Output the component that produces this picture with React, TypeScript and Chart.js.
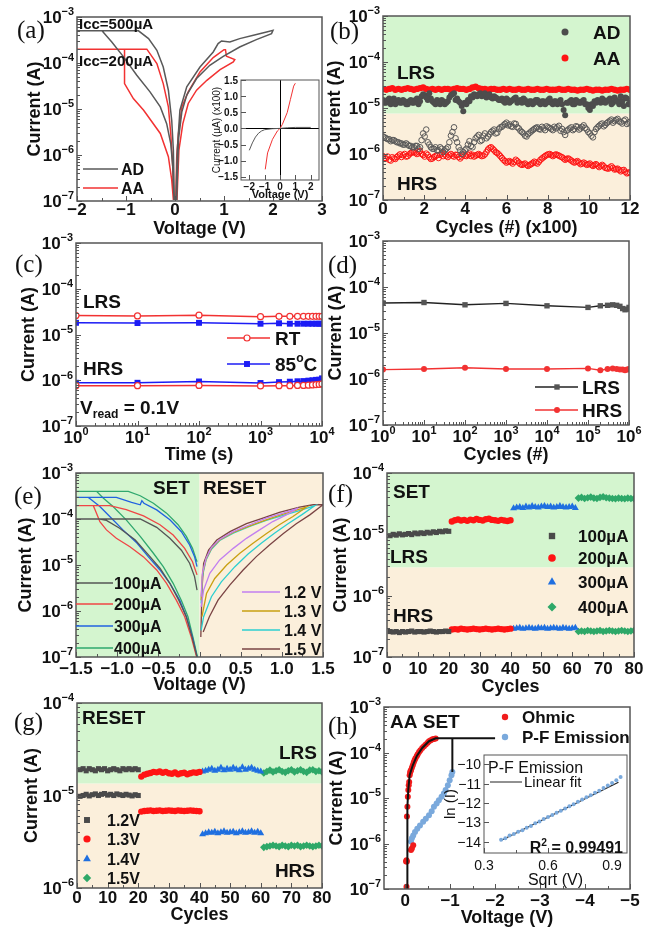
import React, { useEffect, useRef } from 'react';
import { Chart, registerables } from 'chart.js';

Chart.register(...registerables);

const SANS = '"Liberation Sans", Arial, Helvetica, sans-serif';
const SERIF = '"Liberation Serif", "Times New Roman", Times, serif';
const AXIS = '#555555';
const INK = '#111111';
const GREEN_BG = '#d4f5cf';
const BEIGE_BG = '#fbefdb';

type Pt = [number, number];

// ---------------- shared tick labels ----------------
const DEC_7_3 = [1e-7, 1e-6, 1e-5, 1e-4, 1e-3];
const DEC_7_4 = [1e-7, 1e-6, 1e-5, 1e-4];
const DEC_6_4 = [1e-6, 1e-5, 1e-4];
const cTicksX = [1, 10, 100, 1000, 10000];
const dTicksX = [1, 10, 100, 1000, 1e4, 1e5, 1e6];
const aTicksX = [-2, -1, 0, 1, 2, 3];
const aMinorX = [-1.5, -0.5, 0.5, 1.5, 2.5];
const bTicksX = [0, 2, 4, 6, 8, 10, 12];
const bMinorX = [1, 3, 5, 7, 9, 11];
const eTicksX = [-1.5, -1.0, -0.5, 0.0, 0.5, 1.0, 1.5];
const eMinorX = [-1.25, -0.75, -0.25, 0.25, 0.75, 1.25];
const cycTicksX = [0, 10, 20, 30, 40, 50, 60, 70, 80];
const cycMinorX = [5, 15, 25, 35, 45, 55, 65, 75];
const hTicksX = [0, -1, -2, -3, -4, -5];
const hMinorX = [-0.5, -1.5, -2.5, -3.5, -4.5];
const aInsTicksX = [-2, -1, 0, 1, 2];
const aInsTicksY = [-1.5, -1.0, -0.5, 0.0, 0.5, 1.0, 1.5];
const hInsTicksX = [0.3, 0.6, 0.9];
const hInsMinorX = [0.45, 0.75];
const hInsTicksY = [-14, -13, -12, -11, -10];

function logMinor(lo: number, hi: number) {
  const out: number[] = [];
  for (let e = lo; e < hi; e++) for (let m = 2; m <= 9; m++) out.push(m * Number('1e' + e));
  return out;
}

// ---------------- (a) I-V loops [V, A] ----------------
const aAdNeg: Pt[] = [
  [-0.02, 1.05e-7], [-0.046, 5.6e-7], [-0.087, 1.78e-6], [-0.17, 4.8e-6], [-0.30, 1.11e-5],
  [-0.51, 2.36e-5], [-0.78, 5.4e-5], [-1.05, 1.36e-4], [-1.29, 2.87e-4], [-1.49, 5.0e-4],
  [-2.0, 5.0e-4], [-0.745, 5.0e-4], [-0.54, 3.39e-4], [-0.37, 1.89e-4], [-0.24, 8.2e-5],
  [-0.135, 2.56e-5], [-0.067, 5.7e-6], [-0.033, 1.28e-6], [-0.014, 1.05e-7],
];
const aAdPos: Pt[] = [
  [0.02, 1.05e-7], [0.047, 1.28e-6], [0.10, 9.4e-6], [0.24, 3.03e-5], [0.51, 8.2e-5],
  [0.78, 1.74e-4], [0.88, 2.64e-4], [0.95, 3.02e-4], [1.12, 2.87e-4], [1.32, 3.39e-4],
  [1.60, 4.0e-4], [1.87, 4.73e-4], [2.0, 5.14e-4], [1.97, 4.35e-4], [1.66, 3.22e-4],
  [1.32, 2.23e-4], [0.985, 1.4e-4], [0.71, 8.9e-5], [0.44, 4.6e-5], [0.24, 2.0e-5],
  [0.14, 8.7e-6], [0.07, 2.1e-6], [0.035, 1.05e-7],
];
const aAaNeg: Pt[] = [
  [-0.033, 1.05e-7], [-0.067, 2.86e-7], [-0.135, 9.2e-7], [-0.30, 2.94e-6], [-0.64, 9.4e-6],
  [-0.85, 1.69e-5], [-1.03, 3.57e-5], [-1.03, 2.0e-4], [-2.0, 2.0e-4], [-0.575, 2.0e-4],
  [-0.37, 9.7e-5], [-0.24, 3.57e-5], [-0.135, 1.11e-5], [-0.087, 2.94e-6], [-0.046, 5.6e-7],
  [-0.026, 1.05e-7],
];
const aAaPos: Pt[] = [
  [0.015, 1.05e-7], [0.035, 9.2e-7], [0.07, 2.94e-6], [0.14, 1.11e-5], [0.27, 2.36e-5],
  [0.51, 6.4e-5], [0.78, 1.31e-4], [1.0, 1.95e-4], [1.03, 1.95e-4], [1.05, 1.4e-4],
  [1.22, 1.19e-4], [1.19, 1.06e-4], [0.92, 7.2e-5], [0.65, 4.2e-5], [0.44, 2.56e-5],
  [0.27, 1.32e-5], [0.16, 4.8e-6], [0.08, 1.28e-6], [0.04, 1.05e-7],
];
// inset (a): [V, uA x100]
const aInsAD: Pt[] = [
  [-2.0, -0.68], [-1.8, -0.45], [-1.6, -0.27], [-1.4, -0.15], [-1.2, -0.08], [-1.0, -0.04],
  [-0.5, -0.01], [0, 0], [0.5, 0.02], [1.0, 0.03], [2.0, 0.03],
];
const aInsAA: Pt[] = [
  [-0.96, -1.27], [-0.81, -0.76], [-0.49, -0.34], [-0.17, -0.08], [0, 0], [0.15, 0.12],
  [0.47, 0.49], [0.68, 0.9], [0.89, 1.31], [1.0, 1.4],
];

// ---------------- (b) endurance, x in units of 100 cycles ----------------
const bStep = 0.15;       // main sampling (x = i * bStep)
const bOffset = 0.075;    // interleaved sampling (x = bOffset + i * bStep)
const bAdLrs = [ // x1e-5 A
  1.5, 1.3, 1.6, 1.4, 1.2, 1.5, 1.3, 1.4, 1.2, 1.5,
  1.3, 1.6, 1.4, 2.0, 1.7, 2.1, 1.4, 1.2, 1.3, 1.5,
  1.2, 1.4, 1.9, 2.1, 1.6, 1.3, 0.85, 1.2, 1.4, 1.7,
  1.9, 2.0, 1.8, 2.1, 1.9, 1.7, 1.8, 1.6, 1.5, 1.4,
  1.6, 1.3, 1.5, 1.7, 1.4, 1.3, 1.5, 1.2, 1.4, 1.3,
  1.5, 1.2, 1.4, 1.3, 1.6, 1.2, 1.4, 1.3, 1.2, 0.7,
  1.3, 1.5, 1.2, 1.4, 1.3, 1.5, 1.2, 0.9, 1.1, 1.3,
  1.4, 1.6, 1.3, 1.5, 1.2, 1.7, 1.4, 1.8, 1.1, 1.6,
  1.3,
];
const bAdLrs2 = [ // x1e-5 A, interleaved
  1.3, 1.5, 1.2, 1.6, 1.4, 1.3, 1.5, 1.2, 1.4, 1.3,
  1.5, 1.2, 1.8, 1.9, 1.5, 1.6, 1.3, 1.5, 1.2, 1.4,
  1.3, 1.7, 2.0, 1.5, 1.4, 1.1, 1.3, 1.5, 1.8, 2.0,
  1.8, 2.1, 1.9, 1.7, 2.0, 1.6, 1.7, 1.5, 1.6, 1.3,
  1.5, 1.4, 1.6, 1.3, 1.5, 1.6, 1.3, 1.4, 1.2, 1.5,
  1.3, 1.4, 1.2, 1.5, 1.3, 1.4, 1.2, 1.5, 0.9, 1.3,
  1.4, 1.2, 1.5, 1.3, 1.4, 1.2, 1.0, 1.2, 1.4, 1.5,
  1.3, 1.5, 1.4, 1.6, 1.3, 1.5, 1.2, 1.4, 1.7, 1.2,
];
const bAaLrs = [ // x1e-5 A
  2.6, 2.5, 2.6, 2.7, 2.5, 2.6, 2.5, 2.6, 2.7, 2.6,
  2.5, 2.6, 2.7, 2.8, 2.6, 2.5, 2.6, 2.5, 2.6, 2.5,
  2.6, 2.6, 2.5, 2.6, 2.7, 2.6, 2.6, 2.5, 2.6, 2.8,
  2.9, 2.7, 2.6, 2.6, 2.5, 2.6, 2.6, 2.5, 2.5, 2.6,
  2.5, 2.6, 2.5, 2.5, 2.6, 2.5, 2.5, 2.6, 2.5, 2.5,
  2.6, 2.5, 2.5, 2.6, 2.5, 2.5, 2.5, 2.6, 2.5, 2.5,
  2.6, 2.5, 2.5, 2.4, 2.5, 2.5, 2.6, 2.5, 2.4, 2.5,
  2.5, 2.4, 2.5, 2.5, 2.6, 2.5, 2.4, 2.5, 2.5, 2.6,
  2.5,
];
const bAdHrs = [ // x1e-6 A
  2.4, 2.2, 2.1, 2.0, 1.9, 1.8, 1.7, 1.6, 1.6, 1.5,
  1.4, 1.5, 1.4, 2.8, 3.4, 1.6, 1.3, 1.4, 1.2, 1.3,
  1.2, 1.4, 2.5, 3.8, 1.8, 1.2, 1.1, 1.3, 1.9, 1.4,
  2.2, 2.6, 2.0, 2.8, 2.4, 3.0, 3.4, 2.9, 3.8, 4.2,
  4.8, 4.4, 3.9, 4.5, 3.6, 3.0, 2.5, 2.7, 3.1, 3.5,
  3.8, 3.4, 3.6, 4.0, 3.7, 3.3, 3.6, 4.1, 3.5, 2.6,
  3.4, 3.8, 3.5, 3.9, 3.6, 4.2, 3.4, 2.8, 2.3, 3.5,
  4.1, 4.6, 4.3, 5.0, 5.6, 5.2, 5.8, 4.9, 5.3, 4.5,
  5.0,
];
const bAdHrs2 = [ // x1e-6 A, interleaved
  2.3, 2.1, 1.9, 2.0, 1.8, 1.7, 1.6, 1.7, 1.5, 1.4,
  1.5, 1.3, 2.0, 2.4, 1.8, 1.4, 1.3, 1.2, 1.4, 1.1,
  1.3, 1.8, 3.0, 2.2, 1.4, 1.0, 1.2, 1.6, 1.5, 1.8,
  2.4, 1.9, 2.5, 2.2, 2.7, 3.2, 2.8, 3.5, 3.9, 4.5,
  4.2, 4.0, 4.6, 3.8, 3.2, 2.8, 2.4, 2.9, 3.3, 3.7,
  3.5, 3.9, 3.3, 3.8, 3.5, 3.9, 3.8, 3.2, 3.0, 3.2,
  3.6, 3.3, 4.0, 3.4, 3.9, 3.7, 3.0, 2.5, 3.0, 3.8,
  4.4, 4.0, 4.7, 5.3, 4.8, 5.5, 5.1, 4.6, 5.6, 4.8,
];
const bAaHrs = [ // x1e-7 A
  9.0, 8.0, 7.5, 8.5, 7.8, 9.2, 8.6, 10.0, 9.0, 10.5,
  11.0, 10.0, 11.5, 9.5, 10.2, 8.5, 8.0, 9.0, 8.2, 10.5,
  9.8, 8.6, 10.0, 8.8, 9.5, 8.0, 9.8, 9.0, 10.2, 9.6,
  9.2, 10.0, 9.0, 9.8, 12.5, 14.0, 12.0, 10.5, 9.0, 7.5,
  6.5, 7.0, 6.2, 7.5, 6.5, 5.8, 6.2, 5.5, 6.0, 6.8,
  6.2, 7.5, 8.5, 9.5, 10.0, 9.0, 9.8, 9.2, 8.5, 7.5,
  8.0, 7.2, 6.5, 7.0, 6.0, 6.5, 5.8, 6.2, 5.5, 6.0,
  5.2, 5.8, 5.0, 4.8, 5.4, 4.6, 4.8, 4.2, 4.5, 3.8,
  4.0,
];
const bAaHrs2 = [ // x1e-7 A, interleaved
  8.2, 8.8, 7.2, 8.0, 8.6, 9.8, 9.4, 8.8, 9.8, 11.0,
  10.5, 11.0, 10.0, 8.8, 9.5, 7.8, 8.6, 9.4, 9.6, 9.0,
  9.2, 9.4, 9.2, 9.6, 8.6, 8.8, 9.2, 9.6, 9.0, 8.8,
  9.6, 9.4, 9.2, 11.0, 13.5, 13.0, 11.0, 9.8, 8.2, 7.0,
  6.8, 6.6, 6.8, 7.0, 6.0, 6.0, 5.8, 5.8, 6.4, 6.5,
  6.8, 8.0, 9.0, 9.8, 9.5, 9.4, 9.5, 8.8, 8.0, 7.8,
  7.6, 6.8, 6.8, 6.5, 6.2, 6.2, 6.0, 5.8, 5.8, 5.6,
  5.5, 5.4, 4.9, 5.1, 5.0, 4.7, 4.5, 4.4, 4.1, 3.9,
];

// ---------------- (c) retention ----------------
const cTime = [1, 10, 100, 1000, 2000, 3000, 4000, 5000, 6000, 7000, 8000, 9000, 10000];
const cRtLrs = [2.6, 2.55, 2.65, 2.45, 2.5, 2.5, 2.5, 2.5, 2.5, 2.5, 2.5, 2.5, 2.5]; // x1e-5
const cRtHrs = [7.6, 7.6, 7.7, 7.5, 7.6, 7.6, 7.7, 7.7, 7.8, 7.9, 8.0, 8.1, 8.3]; // x1e-7
const c85Lrs = [1.8, 1.78, 1.8, 1.72, 1.76, 1.72, 1.72, 1.72, 1.72, 1.72, 1.72, 1.72, 1.72]; // x1e-5
const c85Hrs = [8.8, 8.8, 9.4, 8.7, 9.1, 9.3, 9.5, 9.6, 9.8, 10.0, 10.2, 10.3, 11.0]; // x1e-7

// ---------------- (d) pulse endurance ----------------
const dCycles = [1, 10, 100, 1000, 1e4, 1e5, 2e5, 3e5, 4e5, 5e5, 6e5, 7e5, 8e5, 9e5, 1e6];
const dLrs = [4.5, 4.6, 4.1, 4.4, 3.9, 3.6, 3.9, 4.0, 4.1, 4.0, 3.8, 3.4, 3.2, 3.3, 3.6]; // x1e-5
const dHrs = [1.6, 1.65, 1.75, 1.65, 1.65, 1.7, 1.55, 1.65, 1.7, 1.65, 1.6, 1.6, 1.55, 1.6, 1.65]; // x1e-6

// ---------------- (e) SET / RESET sweeps [V, A] ----------------
const eSet100: Pt[] = [
  [-0.03, 1e-7], [-0.09, 2.7e-7], [-0.16, 7.5e-7], [-0.25, 1.7e-6], [-0.36, 4.0e-6], [-0.48, 8.5e-6],
  [-0.62, 1.66e-5], [-0.78, 3.5e-5], [-0.97, 6.3e-5], [-1.13, 9.3e-5], [-1.21, 1e-4], [-1.5, 1e-4],
  [-0.72, 1e-4], [-0.52, 6.6e-5], [-0.36, 3.8e-5], [-0.22, 2.1e-5], [-0.12, 1.09e-5], [-0.06, 5.6e-6],
  [-0.03, 2.85e-6],
];
const eSet200: Pt[] = [
  [-0.035, 1e-7], [-0.10, 2.7e-7], [-0.18, 7.5e-7], [-0.28, 1.7e-6], [-0.40, 4e-6], [-0.52, 7.8e-6],
  [-0.68, 1.5e-5], [-0.845, 2.5e-5], [-1.01, 3.8e-5], [-1.13, 5.8e-5], [-1.21, 8.8e-5], [-1.27, 1.6e-4],
  [-1.29, 1.95e-4], [-1.5, 1.95e-4], [-1.09, 1.95e-4], [-0.89, 1.6e-4], [-0.68, 1.17e-4], [-0.48, 7.5e-5],
  [-0.32, 4.5e-5], [-0.18, 2.3e-5], [-0.085, 1.18e-5], [-0.03, 6.1e-6],
];
const eSet300: Pt[] = [
  [-0.03, 1e-7], [-0.085, 2.7e-7], [-0.16, 7.5e-7], [-0.24, 1.7e-6], [-0.36, 4e-6], [-0.48, 7.8e-6],
  [-0.62, 1.5e-5], [-0.76, 3e-5], [-0.93, 5.8e-5], [-1.09, 1.13e-4], [-1.21, 1.87e-4], [-1.31, 2.6e-4],
  [-1.35, 2.95e-4], [-1.5, 2.95e-4], [-1.01, 2.95e-4], [-0.825, 2.3e-4], [-0.72, 2.04e-4], [-0.70, 2.5e-4],
  [-0.675, 2.2e-4], [-0.52, 1.58e-4], [-0.36, 9.6e-5], [-0.22, 5.3e-5], [-0.12, 2.73e-5], [-0.06, 1.52e-5],
  [-0.03, 9.2e-6],
];
const eSet400: Pt[] = [
  [-0.025, 1e-7], [-0.08, 2.7e-7], [-0.14, 7.5e-7], [-0.22, 1.7e-6], [-0.32, 4e-6], [-0.44, 9.2e-6],
  [-0.56, 1.8e-5], [-0.72, 4.2e-5], [-0.89, 9.6e-5], [-1.05, 1.87e-4], [-1.17, 2.85e-4], [-1.25, 4e-4],
  [-1.5, 4e-4], [-0.865, 4e-4], [-0.72, 3.2e-4], [-0.56, 2.2e-4], [-0.40, 1.34e-4], [-0.26, 7.5e-5],
  [-0.16, 4.2e-5], [-0.085, 2.3e-5], [-0.045, 1.4e-5], [-0.03, 1.18e-5],
];
const eReset12: Pt[] = [
  [0.02, 2.04e-6], [0.035, 6.6e-6], [0.08, 1.4e-5], [0.145, 2.4e-5], [0.245, 3.6e-5], [0.41, 5.3e-5],
  [0.61, 7.5e-5], [0.81, 1.05e-4], [1.015, 1.34e-4], [1.2, 1.73e-4], [1.055, 1.23e-4], [0.89, 8.8e-5],
  [0.73, 5.8e-5], [0.57, 3.8e-5], [0.41, 2.3e-5], [0.245, 1.29e-5], [0.125, 6.6e-6], [0.05, 2.85e-6],
  [0.02, 1.23e-6],
];
const eReset13: Pt[] = [
  [0.02, 1.72e-6], [0.035, 6.1e-6], [0.08, 1.35e-5], [0.145, 2.3e-5], [0.245, 3.5e-5], [0.41, 5.1e-5],
  [0.61, 7.1e-5], [0.81, 9.6e-5], [1.015, 1.27e-4], [1.215, 1.64e-4], [1.3, 1.82e-4], [1.135, 1.13e-4],
  [0.97, 7.5e-5], [0.81, 4.8e-5], [0.65, 2.97e-5], [0.49, 1.8e-5], [0.33, 1.0e-5], [0.185, 5.1e-6],
  [0.085, 2.4e-6], [0.03, 7.5e-7],
];
const eReset14: Pt[] = [
  [0.02, 1.45e-6], [0.035, 5.6e-6], [0.08, 1.29e-5], [0.145, 2.2e-5], [0.245, 3.4e-5], [0.41, 4.9e-5],
  [0.61, 6.9e-5], [0.81, 9.3e-5], [1.015, 1.2e-4], [1.215, 1.53e-4], [1.4, 1.95e-4], [1.24, 1.23e-4],
  [1.075, 7.9e-5], [0.91, 4.9e-5], [0.75, 2.97e-5], [0.59, 1.74e-5], [0.43, 9.2e-6], [0.265, 4.3e-6],
  [0.145, 2.04e-6], [0.05, 7.5e-7], [0.02, 3.8e-7],
];
const eReset15: Pt[] = [
  [0.016, 2.73e-7], [0.03, 2.85e-6], [0.05, 1.09e-5], [0.11, 2.1e-5], [0.21, 3.5e-5], [0.37, 5.3e-5],
  [0.57, 7.9e-5], [0.77, 1.05e-4], [0.97, 1.39e-4], [1.215, 1.82e-4], [1.38, 2.04e-4], [1.5, 2.04e-4],
  [1.34, 1.23e-4], [1.175, 7.9e-5], [1.015, 4.8e-5], [0.85, 2.73e-5], [0.69, 1.52e-5], [0.53, 7.8e-6],
  [0.37, 3.7e-6], [0.225, 1.72e-6], [0.12, 7.5e-7], [0.045, 3.5e-7],
];

// ---------------- (f) SET compliance series (cycle-by-cycle) ----------------
const fLrs100 = [0.95, 1.0, 0.97, 1.02, 0.98, 1.0, 1.03, 0.99, 1.05, 1.02, 1.06, 1.03, 1.08, 1.05, 1.1, 1.07, 1.12, 1.1, 1.14, 1.12]; // x1e-5
const fLrs200 = [1.62, 1.7, 1.75, 1.68, 1.72, 1.66, 1.74, 1.7, 1.78, 1.72, 1.68, 1.76, 1.8, 1.72, 1.7, 1.66, 1.72, 1.68, 1.65, 1.7];
const fLrs300 = [2.65, 2.75, 2.8, 2.7, 2.85, 2.75, 2.9, 2.8, 2.75, 2.85, 2.9, 2.8, 2.85, 2.75, 2.8, 2.9, 2.8, 2.75, 2.8, 2.85, 2.7];
const fLrs400 = [3.9, 4.0, 3.85, 3.95, 4.05, 3.9, 3.85, 4.0, 4.1, 3.95, 3.9, 3.85, 3.8, 3.9, 3.85, 3.8, 3.9, 3.85, 3.8];
const fHrs100 = [2.6, 2.55, 2.6, 2.5, 2.6, 2.55, 2.6, 2.65, 2.55, 2.6, 2.6, 2.55, 2.6, 2.65, 2.6, 2.55, 2.6, 2.6, 2.65, 2.6]; // x1e-7
const fHrs200 = [2.8, 2.85, 2.8, 2.9, 2.85, 2.8, 2.85, 2.9, 2.85, 2.8, 2.85, 2.9, 2.85, 2.8, 2.85, 2.9, 2.85, 2.8, 2.85, 2.9];
const fHrs300 = [2.9, 2.95, 3.0, 2.9, 2.95, 3.0, 2.95, 2.9, 3.0, 2.95, 3.0, 2.9, 2.95, 3.0, 2.95, 2.9, 3.0, 2.95, 2.9, 2.95, 3.0];
const fHrs400 = [2.6, 2.65, 2.6, 2.7, 2.65, 2.6, 2.65, 2.7, 2.6, 2.65, 2.7, 2.65, 2.6, 2.65, 2.7, 2.65, 2.6, 2.65, 2.7];

// ---------------- (g) RESET stop-voltage series ----------------
const gLrs12 = [1.9, 1.95, 1.85, 1.95, 1.9, 1.85, 1.95, 1.9, 1.95, 1.85, 1.9, 1.95, 1.9, 1.85, 1.95, 1.9, 1.95, 1.9, 1.95, 1.9]; // x1e-5
const gLrs13 = [1.6, 1.68, 1.72, 1.75, 1.8, 1.78, 1.82, 1.76, 1.8, 1.74, 1.72, 1.78, 1.7, 1.74, 1.76, 1.7, 1.74, 1.78, 1.76, 1.8];
const gLrs14 = [1.82, 1.85, 1.9, 1.95, 1.85, 1.9, 2.0, 1.88, 1.95, 1.9, 2.0, 1.92, 1.88, 2.02, 1.9, 1.95, 2.0, 1.9, 1.85, 1.82];
const gLrs15 = [1.75, 1.82, 1.88, 1.8, 1.85, 1.9, 1.82, 1.78, 1.85, 1.9, 1.8, 1.85, 1.9, 1.82, 1.78, 1.88, 1.9, 1.82, 1.85, 1.8];
const gHrs12 = [9.8, 10.0, 10.3, 9.9, 10.2, 10.4, 10.0, 10.3, 10.5, 10.1, 10.3, 10.0, 10.4, 10.2, 10.0, 10.3, 10.1, 9.9, 10.2, 10.0]; // x1e-6
const gHrs13 = [6.7, 6.8, 6.85, 6.9, 6.8, 6.85, 6.9, 6.8, 6.85, 6.9, 6.85, 6.8, 6.9, 6.85, 6.8, 6.85, 6.9, 6.85, 6.8, 6.75];
const gHrs14 = [3.8, 3.9, 4.0, 3.95, 4.05, 3.9, 4.0, 4.1, 3.95, 4.0, 4.05, 3.9, 4.0, 4.1, 3.95, 4.0, 4.1, 3.95, 4.05, 3.9];
const gHrs15 = [2.75, 2.8, 2.85, 2.9, 2.85, 2.8, 2.9, 2.85, 2.8, 2.9, 2.85, 2.9, 2.8, 2.85, 2.9, 2.85, 2.8, 2.85, 2.9, 2.85];

// ---------------- (h) AA SET conduction [V, A] ----------------
const hOhmic: Pt[] = [
  [-0.03, 1.12e-7], [-0.02, 4.0e-7], [-0.03, 4.3e-7], [-0.04, 4.0e-7], [-0.13, 7.2e-7], [-0.15, 7.8e-7],
  [-0.18, 9.2e-7], [-0.04, 3.9e-6], [-0.05, 6.4e-6], [-0.06, 1.06e-5], [-0.07, 1.49e-5], [-0.08, 1.9e-5],
  [-0.09, 2.26e-5], [-0.10, 3.16e-5], [-0.11, 3.6e-5], [-0.12, 3.9e-5], [-0.13, 4.07e-5], [-0.15, 4.6e-5],
  [-0.17, 5.25e-5], [-0.19, 6.0e-5], [-0.21, 6.76e-5], [-0.23, 7.5e-5], [-0.26, 8.4e-5], [-0.28, 9.2e-5],
  [-0.31, 1.03e-4], [-0.34, 1.12e-4], [-0.38, 1.26e-4], [-0.42, 1.38e-4], [-0.46, 1.49e-4], [-0.50, 1.63e-4],
  [-0.53, 1.77e-4], [-0.57, 1.85e-4], [-0.61, 1.95e-4], [-0.64, 1.98e-4], [-0.68, 2.02e-4],
];
const hPF: Pt[] = [
  [-0.13, 1.1e-6], [-0.15, 1.3e-6], [-0.18, 1.5e-6], [-0.22, 1.8e-6], [-0.27, 2.1e-6], [-0.33, 2.5e-6],
  [-0.40, 3.0e-6], [-0.46, 3.5e-6], [-0.53, 4.2e-6], [-0.59, 5.1e-6], [-0.64, 6.4e-6], [-0.70, 7.6e-6],
  [-0.75, 8.9e-6], [-0.81, 1.06e-5], [-0.86, 1.25e-5], [-0.90, 1.49e-5], [-0.95, 1.9e-5], [-0.99, 2.45e-5],
  [-1.03, 3.16e-5], [-1.05, 3.75e-5],
];
const hSweep: Pt[] = [
  [-1.05, 3.75e-5], [-1.05, 2.05e-4], [-2.0, 2.05e-4], [-0.68, 2.05e-4], [-0.53, 1.77e-4], [-0.38, 1.26e-4],
  [-0.26, 8.4e-5], [-0.17, 5.25e-5], [-0.10, 3.16e-5], [-0.07, 1.49e-5], [-0.05, 6.4e-6], [-0.05, 1e-7],
];
const hInsX = [0.38, 0.40, 0.42, 0.44, 0.46, 0.48, 0.50, 0.52, 0.54, 0.56, 0.58, 0.60, 0.62, 0.64, 0.66,
  0.68, 0.70, 0.72, 0.74, 0.76, 0.78, 0.80, 0.82, 0.84, 0.86, 0.88, 0.90, 0.92, 0.94];
const hInsY = [-13.9, -13.82, -13.68, -13.6, -13.48, -13.4, -13.27, -13.18, -13.05, -12.95, -12.83, -12.72,
  -12.62, -12.5, -12.4, -12.28, -12.16, -12.06, -11.94, -11.82, -11.7, -11.6, -11.47, -11.36, -11.22, -11.1,
  -10.97, -10.82, -10.66];
const hFitX = [0.377, 0.93];
const hFitY = [-13.95, -10.93];

// ---------------- colours ----------------
const C = {
  grey: '#595959', red: '#f23232', blue: '#1c1cf5', dark: '#222222',
  eGrey: '#555555', eRed: '#f04545', eBlue: '#2262e0', eGreen: '#2fa86e',
  purple: '#c27ff0', gold: '#c9a012', cyan: '#2ccfd0', brown: '#7a4444',
  sGrey: '#4a4a4a', sRed: '#ff1414', sBlue: '#1f6fe0', sGreen: '#2ea868',
  hRed: '#f01c1c', hBlue: '#7aa9dc',
};

// ---------------- dataset helpers ----------------
const xy = (p: Pt[]) => p.map(([x, y]) => ({ x, y }));
const zipXY = (xs: number[], ys: number[], k = 1) => xs.map((x, i) => ({ x, y: ys[i] * k }));
const byIndex = (vals: number[], start: number, step: number, k: number) => vals.map((v, i) => ({ x: start + i * step, y: v * k }));
const byCycle = (start: number, vals: number[], k: number) => vals.map((v, i) => ({ x: start + i, y: v * k }));

function line(data: any[], color: string, w = 1.5) {
  return { data, showLine: true, borderColor: color, borderWidth: w, pointRadius: 0, tension: 0, fill: false };
}
function dots(data: any[], color: string, style = 'circle', r = 3, open = false) {
  return {
    data, showLine: false, pointStyle: style, pointRadius: r,
    pointBackgroundColor: open ? 'rgba(255,255,255,0)' : color, pointBorderColor: color,
    pointBorderWidth: open ? 1 : 0, backgroundColor: color, borderColor: color,
  };
}
function lineDots(data: any[], color: string, mColor: string, style: string, r: number, open: boolean, w = 1.5) {
  return {
    data, showLine: true, borderColor: color, borderWidth: w, tension: 0, pointStyle: style, pointRadius: r,
    pointBackgroundColor: open ? '#ffffff' : mColor, pointBorderColor: mColor, pointBorderWidth: open ? 1.2 : 0,
  };
}

// ---------------- drawing helpers ----------------
function drawRich(ctx: CanvasRenderingContext2D, s: string, x: number, y: number, size: number, bold: boolean,
  family: string, align: string, color = INK) {
  const parts: { t: string; k: number }[] = [];
  const re = /([\^_])\{([^}]*)\}/g;
  let last = 0;
  let m: RegExpExecArray | null;
  while ((m = re.exec(s)) !== null) {
    if (m.index > last) parts.push({ t: s.slice(last, m.index), k: 0 });
    parts.push({ t: m[2], k: m[1] === '^' ? 1 : 2 });
    last = m.index + m[0].length;
  }
  if (last < s.length) parts.push({ t: s.slice(last), k: 0 });
  const w8 = bold ? 'bold ' : '';
  const fnt = (k: number) => `${w8}${k ? size * 0.64 : size}px ${family}`;
  let total = 0;
  const ws = parts.map((p) => { ctx.font = fnt(p.k); const w = ctx.measureText(p.t).width; total += w; return w; });
  let cx = align === 'left' ? x : align === 'right' ? x - total : x - total / 2;
  const base = y + size * 0.36;
  ctx.fillStyle = color;
  ctx.textBaseline = 'alphabetic';
  ctx.textAlign = 'left';
  parts.forEach((p, i) => {
    ctx.font = fnt(p.k);
    const by = p.k === 1 ? base - size * 0.45 : p.k === 2 ? base + size * 0.22 : base;
    ctx.fillText(p.t, cx, by);
    cx += ws[i];
  });
}

function drawMarker(ctx: CanvasRenderingContext2D, style: string, x: number, y: number, r: number, color: string, open: boolean) {
  ctx.beginPath();
  if (style === 'rect') { const s = r * Math.SQRT1_2; ctx.rect(x - s, y - s, 2 * s, 2 * s); }
  else if (style === 'triangle') {
    for (let i = 0; i < 3; i++) {
      const a = (i * 2 * Math.PI) / 3;
      const px = x + Math.sin(a) * r, py = y - Math.cos(a) * r;
      if (i === 0) ctx.moveTo(px, py); else ctx.lineTo(px, py);
    }
    ctx.closePath();
  } else if (style === 'rectRot') {
    ctx.moveTo(x - r, y); ctx.lineTo(x, y - r); ctx.lineTo(x + r, y); ctx.lineTo(x, y + r); ctx.closePath();
  } else ctx.arc(x, y, r, 0, Math.PI * 2);
  if (open) { ctx.fillStyle = '#fff'; ctx.fill(); ctx.strokeStyle = color; ctx.lineWidth = 1.2; ctx.stroke(); }
  else { ctx.fillStyle = color; ctx.fill(); }
}

type Ax = { kind: 'lin' | 'log'; min: number; max: number; major: number[]; minor: number[]; dec?: number; reverse?: boolean };
type Txt = { x: number; y: number; s: string; size: number; bold?: boolean; align?: string; family?: string };
type Leg = { y: number; x1?: number; x2?: number; color: string; lw?: number; mx?: number; marker?: string; r?: number; open?: boolean; mColor?: string };
type Font = { size: number; bold: boolean };
type Spec = {
  box: number[]; plot: number[]; x: Ax; y: Ax; xTitle: string; yTitle: string;
  xTickY: number; xTitleY: number; yTitleX: number; yTickRight?: number;
  tickFont: Font; xTitleFont: Font; yTitleFont: Font; frameW: number;
  datasets: any[]; bands?: { axis: string; from: number; to: number; color: string }[];
  texts?: Txt[]; legs?: Leg[]; inset?: boolean; cross?: boolean;
};

function fmt(ax: Ax, v: number) {
  if (ax.kind === 'log') {
    const e = Math.round(Math.log10(v));
    return `10^{${e < 0 ? '\u2212' + -e : e}}`;
  }
  const a = Math.abs(v);
  const s = ax.dec != null ? a.toFixed(ax.dec) : String(a);
  return (v < 0 && a > 1e-12 ? '\u2212' : '') + s;
}

function makePlugin(spec: Spec) {
  const ox = spec.box[0], oy = spec.box[1];
  return {
    id: 'panelDecor',
    beforeDatasetsDraw(chart: any) {
      const ctx: CanvasRenderingContext2D = chart.ctx;
      const a = chart.chartArea;
      const xs = chart.scales.x, ys = chart.scales.y;
      ctx.save();
      if (spec.inset) { ctx.fillStyle = '#ffffff'; ctx.fillRect(a.left, a.top, a.right - a.left, a.bottom - a.top); }
      for (const b of spec.bands || []) {
        ctx.fillStyle = b.color;
        if (b.axis === 'y') {
          const p1 = ys.getPixelForValue(b.from), p2 = ys.getPixelForValue(b.to);
          const t = Math.max(a.top, Math.min(p1, p2)), bt = Math.min(a.bottom, Math.max(p1, p2));
          ctx.fillRect(a.left, t, a.right - a.left, bt - t);
        } else {
          const p1 = xs.getPixelForValue(b.from), p2 = xs.getPixelForValue(b.to);
          const l = Math.max(a.left, Math.min(p1, p2)), r = Math.min(a.right, Math.max(p1, p2));
          ctx.fillRect(l, a.top, r - l, a.bottom - a.top);
        }
      }
      if (spec.cross) {
        ctx.strokeStyle = '#000'; ctx.lineWidth = 1;
        const px = Math.round(xs.getPixelForValue(0)) + 0.5, py = Math.round(ys.getPixelForValue(0)) + 0.5;
        ctx.beginPath(); ctx.moveTo(px, a.top); ctx.lineTo(px, a.bottom); ctx.moveTo(a.left, py); ctx.lineTo(a.right, py); ctx.stroke();
      }
      ctx.restore();
    },
    afterDatasetsDraw(chart: any) {
      const ctx: CanvasRenderingContext2D = chart.ctx;
      const a = chart.chartArea;
      const xs = chart.scales.x, ys = chart.scales.y;
      ctx.save();
      ctx.strokeStyle = AXIS; ctx.lineWidth = spec.frameW;
      ctx.strokeRect(a.left, a.top, a.right - a.left, a.bottom - a.top);
      ctx.lineWidth = 1;
      ctx.beginPath();
      const tk = (len: number, vals: number[], isX: boolean) => {
        for (const v of vals) {
          if (isX) { const p = Math.round(xs.getPixelForValue(v)) + 0.5; if (p < a.left - 1 || p > a.right + 1) continue; ctx.moveTo(p, a.bottom); ctx.lineTo(p, a.bottom - len); }
          else { const p = Math.round(ys.getPixelForValue(v)) + 0.5; if (p < a.top - 1 || p > a.bottom + 1) continue; ctx.moveTo(a.left, p); ctx.lineTo(a.left + len, p); }
        }
      };
      tk(5, spec.x.major, true); tk(3, spec.x.minor, true);
      tk(5, spec.y.major, false); tk(3, spec.y.minor, false);
      ctx.stroke();
      const tf = spec.tickFont;
      for (const v of spec.x.major) drawRich(ctx, fmt(spec.x, v), xs.getPixelForValue(v), spec.xTickY - oy, tf.size, tf.bold, SANS, 'center');
      const yr = (spec.yTickRight != null ? spec.yTickRight : spec.plot[0] - 3) - ox;
      for (const v of spec.y.major) drawRich(ctx, fmt(spec.y, v), yr, ys.getPixelForValue(v), tf.size, tf.bold, SANS, 'right');
      const xf = spec.xTitleFont, yf = spec.yTitleFont;
      drawRich(ctx, spec.xTitle, (a.left + a.right) / 2, spec.xTitleY - oy, xf.size, xf.bold, SANS, 'center');
      ctx.save();
      ctx.translate(spec.yTitleX - ox, (a.top + a.bottom) / 2);
      ctx.rotate(-Math.PI / 2);
      drawRich(ctx, spec.yTitle, 0, 0, yf.size, yf.bold, SANS, 'center');
      ctx.restore();
      for (const l of spec.legs || []) {
        if (l.x1 != null && l.x2 != null) {
          ctx.strokeStyle = l.color; ctx.lineWidth = l.lw || 1.5;
          ctx.beginPath(); ctx.moveTo(l.x1 - ox, l.y - oy); ctx.lineTo(l.x2 - ox, l.y - oy); ctx.stroke();
        }
        if (l.marker) drawMarker(ctx, l.marker, (l.mx != null ? l.mx : ((l.x1 || 0) + (l.x2 || 0)) / 2) - ox, l.y - oy, l.r || 3, l.mColor || l.color, !!l.open);
      }
      for (const t of spec.texts || []) {
        drawRich(ctx, t.s, t.x - ox, t.y - oy, t.size, t.bold !== false, t.family || SANS, t.align || 'left');
      }
      ctx.restore();
    },
  };
}

function buildConfig(spec: Spec) {
  const [bx, by, bw, bh] = spec.box;
  const [pl, pt, pr, pb] = spec.plot;
  return {
    type: 'scatter',
    data: { datasets: spec.datasets },
    options: {
      animation: false,
      responsive: false,
      maintainAspectRatio: false,
      events: [],
      layout: { padding: { left: pl - bx, top: pt - by, right: bx + bw - pr, bottom: by + bh - pb } },
      plugins: { legend: { display: false }, tooltip: { enabled: false }, title: { display: false } },
      scales: {
        x: { type: spec.x.kind === 'log' ? 'logarithmic' : 'linear', min: spec.x.min, max: spec.x.max, reverse: !!spec.x.reverse, display: false },
        y: { type: spec.y.kind === 'log' ? 'logarithmic' : 'linear', min: spec.y.min, max: spec.y.max, reverse: !!spec.y.reverse, display: false },
      },
    },
    plugins: [makePlugin(spec)],
  };
}

// ---------------- panel specs ----------------
const TICK: Font = { size: 17, bold: true };
const TITLE: Font = { size: 18, bold: true };
const logY = (lo: number, hi: number, major: number[]): Ax => ({ kind: 'log', min: Number('1e' + lo), max: Number('1e' + hi), major, minor: logMinor(lo, hi) });
const LW = 345; // width of left-column canvases (overlaps the right column, transparent)

const specs: Spec[] = [
  // (a)
  {
    box: [0, 0, LW, 240], plot: [77, 17, 322, 201],
    x: { kind: 'lin', min: -2, max: 3, major: aTicksX, minor: aMinorX, dec: 0 }, y: logY(-7, -3, DEC_7_3),
    xTitle: 'Voltage (V)', yTitle: 'Current (A)', xTickY: 209, xTitleY: 228, yTitleX: 34,
    tickFont: TICK, xTitleFont: TITLE, yTitleFont: TITLE, frameW: 1.5,
    datasets: [
      line(xy(aAdNeg), C.grey), line(xy(aAdPos), C.grey), line(xy(aAaNeg), C.red), line(xy(aAaPos), C.red),
    ],
    legs: [{ x1: 83, x2: 118, y: 169, color: C.grey }, { x1: 83, x2: 118, y: 188, color: C.red }],
    texts: [
      { x: 17, y: 29, s: '(a)', size: 25, bold: false, family: SERIF },
      { x: 79, y: 24, s: 'Icc=500\u00b5A', size: 15 },
      { x: 79, y: 61, s: 'Icc=200\u00b5A', size: 15 },
      { x: 121, y: 169, s: 'AD', size: 16 },
      { x: 121, y: 188, s: 'AA', size: 16 },
    ],
  },
  // (c)
  {
    box: [0, 230, LW, 238], plot: [76, 243, 322, 426],
    x: { kind: 'log', min: 1, max: 1e4, major: cTicksX, minor: logMinor(0, 4) }, y: logY(-7, -3, DEC_7_3),
    xTitle: 'Time (s)', yTitle: 'Current (A)', xTickY: 437, xTitleY: 454, yTitleX: 28,
    tickFont: TICK, xTitleFont: TITLE, yTitleFont: TITLE, frameW: 1.5,
    datasets: [
      lineDots(zipXY(cTime, cRtLrs, 1e-5), C.red, C.red, 'circle', 3, true),
      lineDots(zipXY(cTime, cRtHrs, 1e-7), C.red, C.red, 'circle', 3, true),
      lineDots(zipXY(cTime, c85Lrs, 1e-5), C.blue, C.blue, 'rect', 4.2, false),
      lineDots(zipXY(cTime, c85Hrs, 1e-7), C.blue, C.blue, 'rect', 4.2, false),
    ],
    legs: [
      { x1: 227, x2: 270, y: 338, mx: 247, color: C.red, marker: 'circle', r: 3, open: true },
      { x1: 227, x2: 270, y: 364, mx: 247, color: C.blue, marker: 'rect', r: 4.2 },
    ],
    texts: [
      { x: 15, y: 263, s: '(c)', size: 25, bold: false, family: SERIF },
      { x: 83, y: 301, s: 'LRS', size: 19 },
      { x: 83, y: 368, s: 'HRS', size: 19 },
      { x: 80, y: 407, s: 'V_{read} = 0.1V', size: 19 },
      { x: 275, y: 338, s: 'RT', size: 19 },
      { x: 275, y: 364, s: '85^{o}C', size: 19 },
    ],
  },
  // (e)
  {
    box: [0, 458, LW, 238], plot: [76, 473, 323, 657],
    x: { kind: 'lin', min: -1.5, max: 1.5, major: eTicksX, minor: eMinorX, dec: 1 }, y: logY(-7, -3, DEC_7_3),
    xTitle: 'Voltage (V)', yTitle: 'Current (A)', xTickY: 668, xTitleY: 684, yTitleX: 25,
    tickFont: TICK, xTitleFont: TITLE, yTitleFont: TITLE, frameW: 1.5,
    bands: [{ axis: 'x', from: -1.5, to: 0, color: GREEN_BG }, { axis: 'x', from: 0, to: 1.5, color: BEIGE_BG }],
    datasets: [
      line(xy(eSet100), C.eGrey, 1.3), line(xy(eSet200), C.eRed, 1.3), line(xy(eSet300), C.eBlue, 1.3), line(xy(eSet400), C.eGreen, 1.3),
      line(xy(eReset12), C.purple, 1.3), line(xy(eReset13), C.gold, 1.3), line(xy(eReset14), C.cyan, 1.3), line(xy(eReset15), C.brown, 1.3),
    ],
    legs: [
      { x1: 76, x2: 113, y: 583, color: C.eGrey }, { x1: 76, x2: 113, y: 604, color: C.eRed },
      { x1: 76, x2: 113, y: 626, color: C.eBlue }, { x1: 76, x2: 113, y: 648, color: C.eGreen },
      { x1: 242, x2: 280, y: 592, color: C.purple }, { x1: 242, x2: 280, y: 611, color: C.gold },
      { x1: 242, x2: 280, y: 630, color: C.cyan }, { x1: 242, x2: 280, y: 649, color: C.brown },
    ],
    texts: [
      { x: 14, y: 495, s: '(e)', size: 25, bold: false, family: SERIF },
      { x: 153, y: 487, s: 'SET', size: 19 },
      { x: 203, y: 487, s: 'RESET', size: 19 },
      { x: 114, y: 583, s: '100\u00b5A', size: 16 }, { x: 114, y: 604, s: '200\u00b5A', size: 16 },
      { x: 114, y: 626, s: '300\u00b5A', size: 16 }, { x: 114, y: 648, s: '400\u00b5A', size: 16 },
      { x: 284, y: 592, s: '1.2 V', size: 16 }, { x: 284, y: 611, s: '1.3 V', size: 16 },
      { x: 284, y: 630, s: '1.4 V', size: 16 }, { x: 284, y: 649, s: '1.5 V', size: 16 },
    ],
  },
  // (g)
  {
    box: [0, 688, LW, 242], plot: [77, 703, 322, 888],
    x: { kind: 'lin', min: 0, max: 80, major: cycTicksX, minor: cycMinorX, dec: 0 }, y: logY(-6, -4, DEC_6_4),
    xTitle: 'Cycles', yTitle: 'Current (A)', xTickY: 897, xTitleY: 914, yTitleX: 31,
    tickFont: TICK, xTitleFont: TITLE, yTitleFont: TITLE, frameW: 1.5,
    bands: [{ axis: 'y', from: 1e-6, to: 1.35e-5, color: BEIGE_BG }, { axis: 'y', from: 1.35e-5, to: 1e-4, color: GREEN_BG }],
    datasets: [
      dots(byCycle(1, gLrs12, 1e-5), C.sGrey, 'rect', 3.6), dots(byCycle(1, gHrs12, 1e-6), C.sGrey, 'rect', 3.6),
      dots(byCycle(21, gLrs13, 1e-5), C.sRed, 'circle', 3.2), dots(byCycle(21, gHrs13, 1e-6), C.sRed, 'circle', 3.2),
      dots(byCycle(41, gLrs14, 1e-5), C.sBlue, 'triangle', 4), dots(byCycle(41, gHrs14, 1e-6), C.sBlue, 'triangle', 4),
      dots(byCycle(61, gLrs15, 1e-5), C.sGreen, 'rectRot', 3.8), dots(byCycle(61, gHrs15, 1e-6), C.sGreen, 'rectRot', 3.8),
    ],
    legs: [
      { y: 820, mx: 87, color: C.sGrey, marker: 'rect', r: 4.2 },
      { y: 839, mx: 87, color: C.sRed, marker: 'circle', r: 3.6 },
      { y: 859, mx: 87, color: C.sBlue, marker: 'triangle', r: 4.5 },
      { y: 878, mx: 87, color: C.sGreen, marker: 'rectRot', r: 4.2 },
    ],
    texts: [
      { x: 14, y: 721, s: '(g)', size: 25, bold: false, family: SERIF },
      { x: 82, y: 717, s: 'RESET', size: 19 },
      { x: 317, y: 752, s: 'LRS', size: 19, align: 'right' },
      { x: 315, y: 870, s: 'HRS', size: 19, align: 'right' },
      { x: 107, y: 820, s: '1.2V', size: 16 }, { x: 107, y: 839, s: '1.3V', size: 16 },
      { x: 107, y: 859, s: '1.4V', size: 16 }, { x: 107, y: 878, s: '1.5V', size: 16 },
    ],
  },
  // (b)
  {
    box: [322, 0, 335, 240], plot: [383, 16, 630, 200],
    x: { kind: 'lin', min: 0, max: 12, major: bTicksX, minor: bMinorX, dec: 0 }, y: logY(-7, -3, DEC_7_3),
    xTitle: 'Cycles (#) (x100)', yTitle: 'Current (A)', xTickY: 208, xTitleY: 227, yTitleX: 334,
    tickFont: TICK, xTitleFont: TITLE, yTitleFont: TITLE, frameW: 1.5,
    bands: [{ axis: 'y', from: 1e-7, to: 7.6e-6, color: BEIGE_BG }, { axis: 'y', from: 7.6e-6, to: 1e-3, color: GREEN_BG }],
    datasets: [
      dots(byIndex(bAdHrs, 0, bStep, 1e-6), '#5a5a5a', 'circle', 2.8, true),
      dots(byIndex(bAdHrs2, bOffset, bStep, 1e-6), '#5a5a5a', 'circle', 2.8, true),
      dots(byIndex(bAaHrs, 0, bStep, 1e-7), C.sRed, 'circle', 2.8, true),
      dots(byIndex(bAaHrs2, bOffset, bStep, 1e-7), C.sRed, 'circle', 2.8, true),
      dots(byIndex(bAdLrs, 0, bStep, 1e-5), '#4d4d4d', 'circle', 3),
      dots(byIndex(bAdLrs2, bOffset, bStep, 1e-5), '#4d4d4d', 'circle', 3),
      dots(byIndex(bAaLrs, 0, bStep, 1e-5), C.sRed, 'circle', 3.2),
    ],
    legs: [
      { y: 32, mx: 565, color: '#4d4d4d', marker: 'circle', r: 3.5 },
      { y: 58, mx: 565, color: C.sRed, marker: 'circle', r: 3.5 },
    ],
    texts: [
      { x: 330, y: 30, s: '(b)', size: 25, bold: false, family: SERIF },
      { x: 397, y: 72, s: 'LRS', size: 19 },
      { x: 397, y: 183, s: 'HRS', size: 19 },
      { x: 593, y: 32, s: 'AD', size: 19 },
      { x: 593, y: 58, s: 'AA', size: 19 },
    ],
  },
  // (d)
  {
    box: [322, 230, 335, 238], plot: [383, 241, 629, 425],
    x: { kind: 'log', min: 1, max: 1e6, major: dTicksX, minor: logMinor(0, 6) }, y: logY(-7, -3, DEC_7_3),
    xTitle: 'Cycles (#)', yTitle: 'Current (A)', xTickY: 436, xTitleY: 454, yTitleX: 335,
    tickFont: TICK, xTitleFont: TITLE, yTitleFont: TITLE, frameW: 1.5,
    datasets: [
      lineDots(zipXY(dCycles, dLrs, 1e-5), C.dark, '#555555', 'rect', 3.8, false, 1.4),
      lineDots(zipXY(dCycles, dHrs, 1e-6), C.red, C.red, 'circle', 3, false, 1.4),
    ],
    legs: [
      { x1: 535, x2: 578, y: 387, mx: 557, color: C.dark, mColor: '#555555', marker: 'rect', r: 3.8 },
      { x1: 535, x2: 578, y: 410, mx: 557, color: C.red, marker: 'circle', r: 3 },
    ],
    texts: [
      { x: 328, y: 264, s: '(d)', size: 25, bold: false, family: SERIF },
      { x: 582, y: 387, s: 'LRS', size: 19 },
      { x: 582, y: 410, s: 'HRS', size: 19 },
    ],
  },
  // (f)
  {
    box: [322, 458, 335, 238], plot: [387, 473, 634, 657],
    x: { kind: 'lin', min: 0, max: 80, major: cycTicksX, minor: cycMinorX, dec: 0 }, y: logY(-7, -4, DEC_7_4),
    xTitle: 'Cycles', yTitle: 'Current (A)', xTickY: 668, xTitleY: 686, yTitleX: 340,
    tickFont: TICK, xTitleFont: TITLE, yTitleFont: TITLE, frameW: 1.5,
    bands: [{ axis: 'y', from: 1e-7, to: 2.9e-6, color: BEIGE_BG }, { axis: 'y', from: 2.9e-6, to: 1e-4, color: GREEN_BG }],
    datasets: [
      dots(byCycle(1, fLrs100, 1e-5), C.sGrey, 'rect', 3.6), dots(byCycle(1, fHrs100, 1e-7), C.sGrey, 'rect', 3.6),
      dots(byCycle(21, fLrs200, 1e-5), C.sRed, 'circle', 3.2), dots(byCycle(21, fHrs200, 1e-7), C.sRed, 'circle', 3.2),
      dots(byCycle(41, fLrs300, 1e-5), C.sBlue, 'triangle', 4), dots(byCycle(41, fHrs300, 1e-7), C.sBlue, 'triangle', 4),
      dots(byCycle(62, fLrs400, 1e-5), C.sGreen, 'rectRot', 3.8), dots(byCycle(62, fHrs400, 1e-7), C.sGreen, 'rectRot', 3.8),
    ],
    legs: [
      { y: 536, mx: 552, color: C.sGrey, marker: 'rect', r: 4.5 },
      { y: 558, mx: 552, color: C.sRed, marker: 'circle', r: 3.8 },
      { y: 582, mx: 552, color: C.sBlue, marker: 'triangle', r: 4.8 },
      { y: 607, mx: 552, color: C.sGreen, marker: 'rectRot', r: 4.5 },
    ],
    texts: [
      { x: 328, y: 493, s: '(f)', size: 25, bold: false, family: SERIF },
      { x: 393, y: 491, s: 'SET', size: 19 },
      { x: 390, y: 556, s: 'LRS', size: 19 },
      { x: 393, y: 615, s: 'HRS', size: 19 },
      { x: 578, y: 536, s: '100\u00b5A', size: 17 }, { x: 578, y: 558, s: '200\u00b5A', size: 17 },
      { x: 578, y: 582, s: '300\u00b5A', size: 17 }, { x: 578, y: 607, s: '400\u00b5A', size: 17 },
    ],
  },
  // (h)
  {
    box: [322, 688, 335, 242], plot: [384, 707, 630, 889],
    x: { kind: 'lin', min: -5, max: 0.47, major: hTicksX, minor: hMinorX, dec: 0, reverse: true }, y: logY(-7, -3, DEC_7_3),
    xTitle: 'Voltage (V)', yTitle: 'Current (A)', xTickY: 900, xTitleY: 917, yTitleX: 336,
    tickFont: TICK, xTitleFont: TITLE, yTitleFont: TITLE, frameW: 1.5,
    datasets: [
      line(xy(hSweep), '#111111', 2),
      dots(xy(hOhmic), C.hRed, 'circle', 3),
      dots(xy(hPF), C.hBlue, 'circle', 3),
    ],
    legs: [
      { y: 717, mx: 505, color: C.hRed, marker: 'circle', r: 3.2 },
      { y: 737, mx: 505, color: C.hBlue, marker: 'circle', r: 3.2 },
    ],
    texts: [
      { x: 328, y: 725, s: '(h)', size: 25, bold: false, family: SERIF },
      { x: 390, y: 721, s: 'AA SET', size: 19 },
      { x: 522, y: 717, s: 'Ohmic', size: 17 },
      { x: 522, y: 737, s: 'P-F Emission', size: 17 },
    ],
  },
  // inset of (a)
  {
    box: [198, 72, 130, 130], plot: [241, 80, 319, 180],
    x: { kind: 'lin', min: -2.54, max: 2.54, major: aInsTicksX, minor: [], dec: 0 },
    y: { kind: 'lin', min: -1.6, max: 1.5, major: aInsTicksY, minor: [], dec: 1 },
    xTitle: 'Voltage (V)', yTitle: 'Current (\u00b5A) (x100)', xTickY: 186, xTitleY: 194, yTitleX: 216, yTickRight: 238,
    tickFont: { size: 10, bold: true }, xTitleFont: { size: 11, bold: true }, yTitleFont: { size: 10, bold: false }, frameW: 1,
    inset: true, cross: true,
    datasets: [line(xy(aInsAD), C.grey, 1), line(xy(aInsAA), C.red, 1)],
  },
  // inset of (h)
  {
    box: [440, 748, 192, 142], plot: [484, 755, 627, 853],
    x: { kind: 'lin', min: 0.3, max: 0.97, major: hInsTicksX, minor: hInsMinorX, dec: 1 },
    y: { kind: 'lin', min: -14.58, max: -9.52, major: hInsTicksY, minor: [], dec: 0 },
    xTitle: 'Sqrt (V)', yTitle: 'ln (I)', xTickY: 865, xTitleY: 879, yTitleX: 450, yTickRight: 481,
    tickFont: { size: 14, bold: false }, xTitleFont: { size: 16, bold: false }, yTitleFont: { size: 15, bold: false }, frameW: 1,
    inset: true,
    datasets: [
      dots(zipXY(hInsX, hInsY), C.hBlue, 'circle', 2),
      line(zipXY(hFitX, hFitY), '#222222', 1.2),
    ],
    legs: [{ x1: 490, x2: 522, y: 782, color: '#222222', lw: 1 }],
    texts: [
      { x: 488, y: 767, s: 'P-F Emission', size: 16, bold: false },
      { x: 524, y: 782, s: 'Linear fit', size: 15, bold: false },
      { x: 623, y: 847, s: 'R^{2} = 0.99491', size: 16, align: 'right' },
    ],
  },
];

function Panel({ spec }: { spec: Spec }) {
  const ref = useRef<HTMLCanvasElement | null>(null);
  useEffect(() => {
    if (!ref.current) return;
    const chart = new Chart(ref.current, buildConfig(spec) as any);
    return () => chart.destroy();
  }, [spec]);
  const [x, y, w, h] = spec.box;
  return (
    <canvas
      ref={ref}
      width={w}
      height={h}
      style={{ position: 'absolute', left: x, top: y, width: w, height: h }}
    />
  );
}

export default function App() {
  return (
    <div style={{ position: 'absolute', left: 0, top: 0, width: 657, height: 930, background: '#ffffff', overflow: 'hidden' }}>
      {specs.map((s, i) => (
        <Panel key={i} spec={s} />
      ))}
    </div>
  );
}
